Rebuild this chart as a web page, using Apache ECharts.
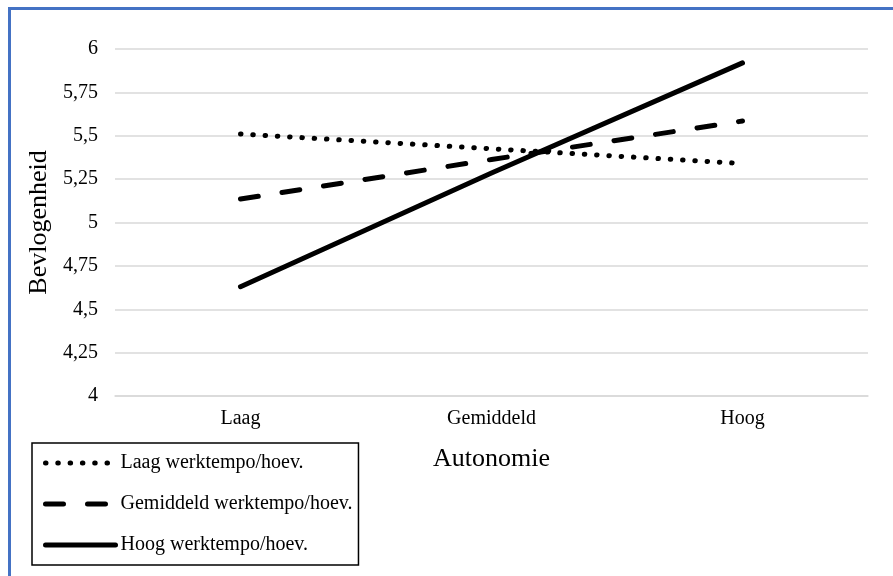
<!DOCTYPE html>
<html>
<head>
<meta charset="utf-8">
<script src="https://cdn.jsdelivr.net/npm/echarts@6/dist/echarts.min.js"></script>
<style>
html,body{margin:0;padding:0;background:#fff;}
#chart{width:893px;height:576px;}
</style>
</head>
<body>
<div id="chart"></div>
<script>
var categories = ['Laag', 'Gemiddeld', 'Hoog'];
var seriesNames = ['Laag werktempo/hoev.', 'Gemiddeld werktempo/hoev.', 'Hoog werktempo/hoev.'];
var laagValues = [5.51, 5.425, 5.34];
var gemiddeldValues = [5.135, 5.363, 5.585];
var hoogValues = [4.63, 5.285, 5.92];
var yMin = 4, yMax = 6, yStep = 0.25;

var font = '"Liberation Serif", "Times New Roman", serif';
var chart = echarts.init(document.getElementById('chart'));
chart.setOption({
  animation: false,
  backgroundColor: '#fff',
  color: ['#000', '#000', '#000'],
  graphic: [{
    type: 'rect',
    shape: { x: 9.5, y: 8.5, width: 1000, height: 800 },
    style: { fill: 'none', stroke: '#4472C4', lineWidth: 3 },
    silent: true, z: 100
  }],
  grid: { left: 115, right: 25, top: 49, bottom: 180 },
  legend: {
    orient: 'vertical',
    left: 32, top: 443,
    padding: [10, 6, 10, 11],
    itemWidth: 70, itemHeight: 20, itemGap: 21,
    borderColor: '#000', borderWidth: 1.5,
    lineStyle: { width: 'inherit' },
    itemStyle: { opacity: 0 },
    textStyle: { fontFamily: font, fontSize: 20, color: '#000' },
    data: seriesNames
  },
  xAxis: {
    type: 'category',
    data: categories,
    boundaryGap: true,
    axisLine: { show: true, lineStyle: { color: '#d9d9d9', width: 1.5 } },
    axisTick: { show: false },
    axisLabel: { fontFamily: font, fontSize: 20, color: '#000', margin: 13 },
    name: 'Autonomie',
    nameLocation: 'middle',
    nameGap: 50,
    nameTextStyle: { fontFamily: font, fontSize: 26, color: '#000' }
  },
  yAxis: {
    type: 'value',
    min: yMin, max: yMax, interval: yStep,
    axisLine: { show: false },
    axisTick: { show: false },
    splitLine: { lineStyle: { color: '#d9d9d9', width: 1.5 } },
    axisLabel: {
      fontFamily: font, fontSize: 20, color: '#000', margin: 17,
      formatter: function (v) { return String(v).replace('.', ','); }
    },
    name: 'Bevlogenheid',
    nameLocation: 'middle',
    nameGap: 63,
    nameTextStyle: { fontFamily: font, fontSize: 26, color: '#000' }
  },
  series: [
    {
      name: seriesNames[0], type: 'line', data: laagValues, symbol: 'none',
      itemStyle: { color: '#000' },
      lineStyle: { color: '#000', width: 5, type: [0.5, 11.8], cap: 'round' }
    },
    {
      name: seriesNames[1], type: 'line', data: gemiddeldValues, symbol: 'none',
      itemStyle: { color: '#000' },
      lineStyle: { color: '#000', width: 5, type: [18, 24], cap: 'round' }
    },
    {
      name: seriesNames[2], type: 'line', data: hoogValues, symbol: 'none',
      itemStyle: { color: '#000' },
      lineStyle: { color: '#000', width: 5, cap: 'round' }
    }
  ]
});
</script>
</body>
</html>
